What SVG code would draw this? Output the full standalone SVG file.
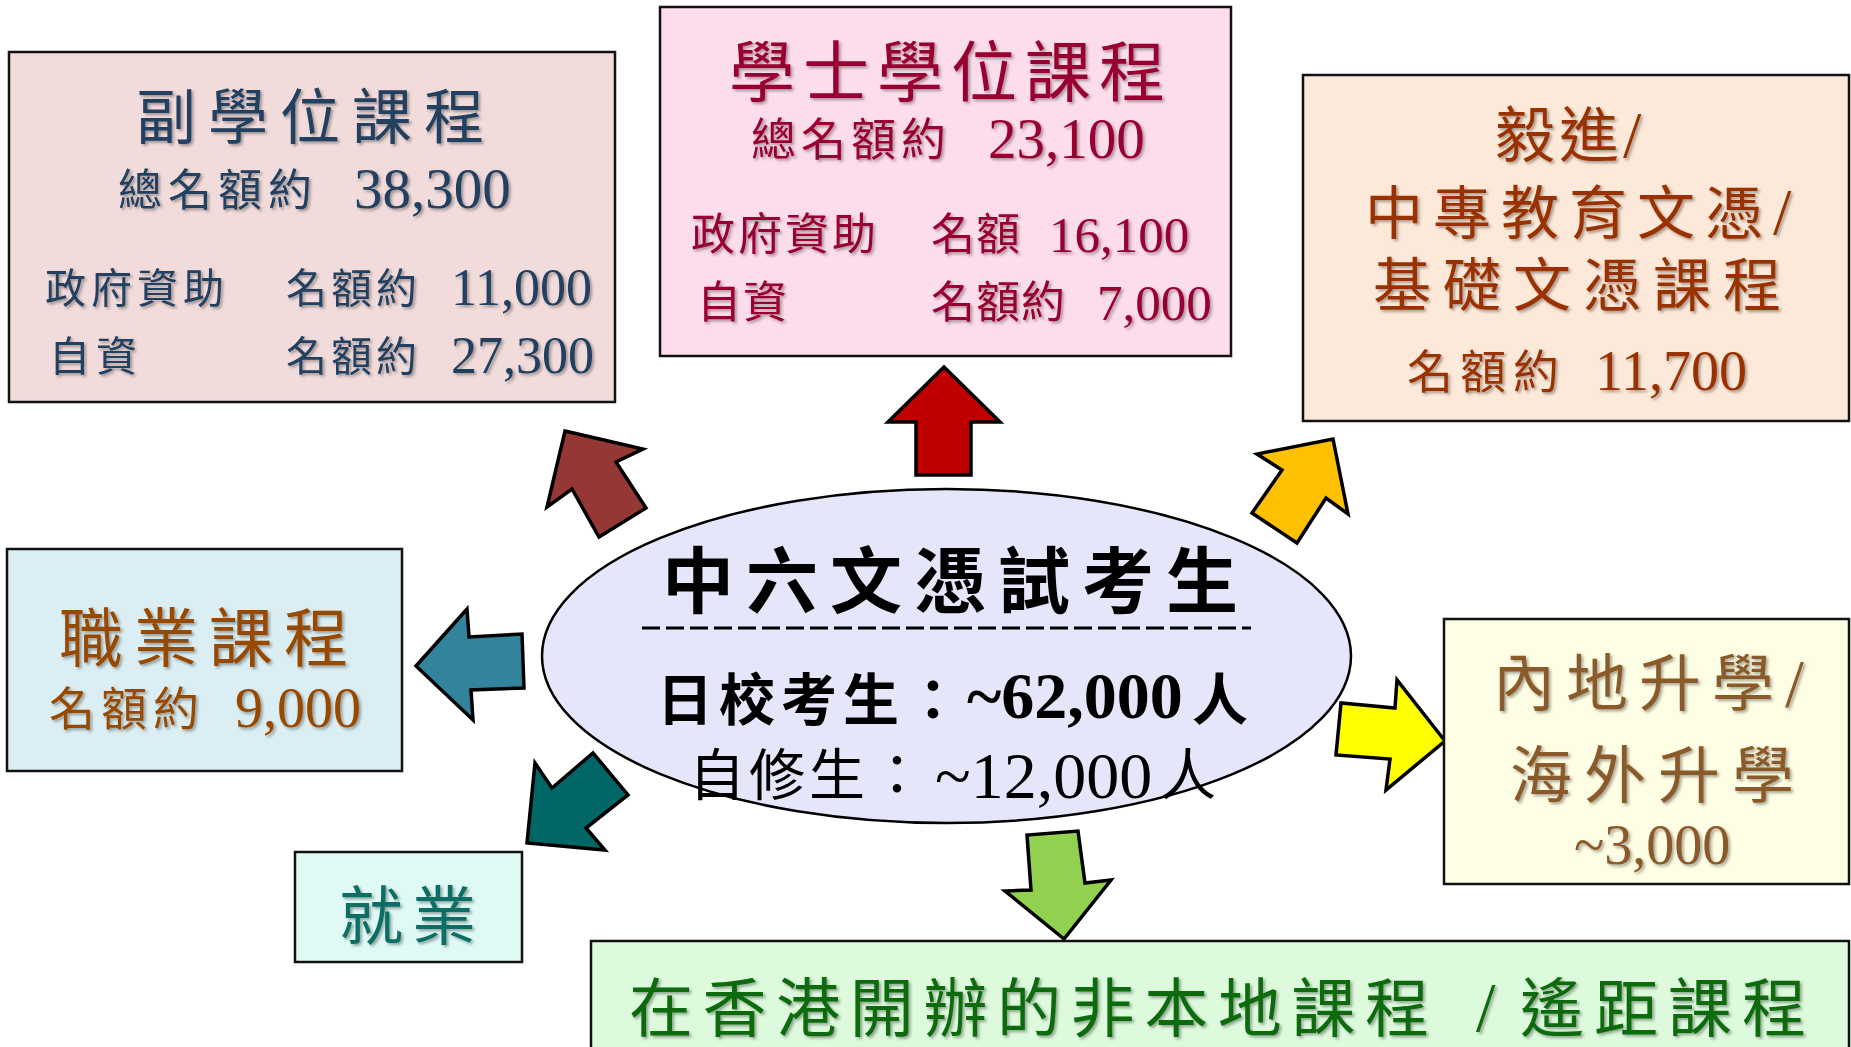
<svg xmlns="http://www.w3.org/2000/svg" width="1851" height="1047" viewBox="0 0 1851 1047">
<style>
.box{stroke:#111;stroke-width:2.5}
.arr{stroke:#000;stroke-width:3.5;stroke-linejoin:miter}
.c{font-family:"Noto Sans CJK TC","Noto Sans CJK SC",sans-serif}
.n{font-family:"Liberation Serif","Noto Sans CJK TC",serif}
.sh{filter:url(#sh)}
.navy{fill:#243F60}
.mar{fill:#990033}
.bro{fill:#993300}
.ora{fill:#984806}
.tea{fill:#0F6E66}
.ylb{fill:#8B5A2B}
.grn{fill:#0B6A0B}
</style>
<defs>
<filter id="sh" x="-10%" y="-20%" width="120%" height="150%">
<feDropShadow dx="2" dy="2" stdDeviation="1.5" flood-color="#000" flood-opacity="0.35"/>
</filter>
</defs>
<rect width="1851" height="1047" fill="#fff"/>

<g id="connectors">
<polygon class="arr" fill="#C00000" points="944,367 1000,422 971,422 971,475 916,475 916,422 888,422"/>
<polygon class="arr" fill="#953735" points="565,431 643,449 616,462 646,508 599,537 572,489 547,507"/>
<polygon class="arr" fill="#FFC000" points="1333,439 1348,514 1326,498 1297,543 1252,513 1282,470 1257,454"/>
<polygon class="arr" fill="#31849B" points="416,666 467,609 469,637 522,634 524,688 471,690 473,720"/>
<polygon class="arr" fill="#006666" points="527,843 535,763 552,788 593,753 628,795 586,828 605,850"/>
<polygon class="arr" fill="#FFFF00" points="1445,741 1397,680 1395,708 1341,703 1336,755 1390,759 1386,790"/>
<polygon class="arr" fill="#92D050" points="1064,939 1005,891 1031,890 1027,835 1078,831 1085,883 1111,880"/>
</g>

<g id="center">
<ellipse cx="946.5" cy="656" rx="404.5" ry="167" fill="#E6E6FA" stroke="#000" stroke-width="2.5"/>
<text class="c" x="662" y="607" font-size="72" font-weight="bold" letter-spacing="12" fill="#000">中六文憑試考生</text>
<line x1="642" y1="628" x2="1251" y2="628" stroke="#000" stroke-width="3" stroke-dasharray="18 6"/>
<text x="657" y="720" fill="#000" font-weight="bold"><tspan class="c" font-size="56" letter-spacing="6">日校考生：</tspan><tspan class="n" x="967" y="718" font-size="66">~62,000</tspan><tspan class="c" x="1192" y="720" font-size="56">人</tspan></text>
<text x="689" y="795" fill="#000"><tspan class="c" font-size="56" letter-spacing="4">自修生：</tspan><tspan class="n" x="935" y="798" font-size="66">~12,000</tspan><tspan class="c" x="1160" y="795" font-size="56">人</tspan></text>
</g>

<g id="associate">
<rect class="box" x="9" y="52" width="606" height="350" fill="#F2DCDB"/>
<g class="sh navy">
<text class="c" x="136" y="139" font-size="60" letter-spacing="12">副學位課程</text>
<text class="c" x="118" y="206" font-size="44" letter-spacing="6">總名額約</text>
<text class="n" x="354" y="208" font-size="57">38,300</text>
<text class="c" x="45" y="303" font-size="41" letter-spacing="5">政府資助</text>
<text class="c" x="286" y="303" font-size="41" letter-spacing="4">名額約</text>
<text class="n" x="451" y="305" font-size="52">11,000</text>
<text class="c" x="49" y="371" font-size="41" letter-spacing="6">自資</text>
<text class="c" x="286" y="371" font-size="41" letter-spacing="4">名額約</text>
<text class="n" x="451" y="373" font-size="52">27,300</text>
</g>
</g>

<g id="bachelor">
<rect class="box" x="660" y="7" width="571" height="349" fill="#FDDCEC"/>
<g class="sh mar">
<text class="c" x="729" y="96" font-size="66" letter-spacing="8">學士學位課程</text>
<text class="c" x="751" y="156" font-size="45" letter-spacing="5">總名額約</text>
<text class="n" x="988" y="158" font-size="57">23,100</text>
<text class="c" x="691" y="250" font-size="44" letter-spacing="3">政府資助</text>
<text class="c" x="931" y="250" font-size="44" letter-spacing="1">名額</text>
<text class="n" x="1049" y="252" font-size="51">16,100</text>
<text class="c" x="697" y="318" font-size="44" letter-spacing="2">自資</text>
<text class="c" x="931" y="318" font-size="44" letter-spacing="1">名額約</text>
<text class="n" x="1097" y="320" font-size="51">7,000</text>
</g>
</g>

<g id="yijin">
<rect class="box" x="1303" y="75" width="546" height="346" fill="#FDE9D9"/>
<g class="sh bro">
<text x="1495" y="157"><tspan class="c" font-size="60" letter-spacing="4">毅進</tspan><tspan class="n" font-size="66">/</tspan></text>
<text x="1365" y="234"><tspan class="c" font-size="58" letter-spacing="10">中專教育文憑</tspan><tspan class="n" font-size="66">/</tspan></text>
<text class="c" x="1373" y="306" font-size="58" letter-spacing="12">基礎文憑課程</text>
<text class="c" x="1407" y="388" font-size="46" letter-spacing="7">名額約</text>
<text class="n" x="1595" y="390" font-size="56">11,700</text>
</g>
</g>

<g id="vocational">
<rect class="box" x="7" y="549" width="395" height="222" fill="#DAEEF3"/>
<g class="sh ora">
<text class="c" x="59" y="661" font-size="64" letter-spacing="11">職業課程</text>
<text class="c" x="49" y="725" font-size="46" letter-spacing="6">名額約</text>
<text class="n" x="235" y="727" font-size="56">9,000</text>
</g>
</g>

<g id="employment">
<rect class="box" x="295" y="852" width="227" height="110" fill="#DFFAF5"/>
<g class="sh tea">
<text class="c" x="339" y="939" font-size="64" letter-spacing="9">就業</text>
</g>
</g>

<g id="mainland">
<rect class="box" x="1444" y="619" width="405" height="265" fill="#FEFEE4"/>
<g class="sh ylb">
<text x="1493" y="706"><tspan class="c" font-size="62" letter-spacing="11">內地升學</tspan><tspan class="n" font-size="68">/</tspan></text>
<text class="c" x="1510" y="798" font-size="62" letter-spacing="12">海外升學</text>
<text class="n" x="1574" y="864" font-size="56">~3,000</text>
</g>
</g>

<g id="nonlocal">
<rect class="box" x="591" y="941" width="1258" height="120" fill="#DDFADD"/>
<g class="sh grn">
<text x="629" y="1031"><tspan class="c" font-size="64" letter-spacing="9.6">在香港開辦的非本地課程</tspan><tspan class="n" x="1476" font-size="70">/</tspan><tspan class="c" x="1520" font-size="64" letter-spacing="10">遙距課程</tspan></text>
</g>
</g>
</svg>
